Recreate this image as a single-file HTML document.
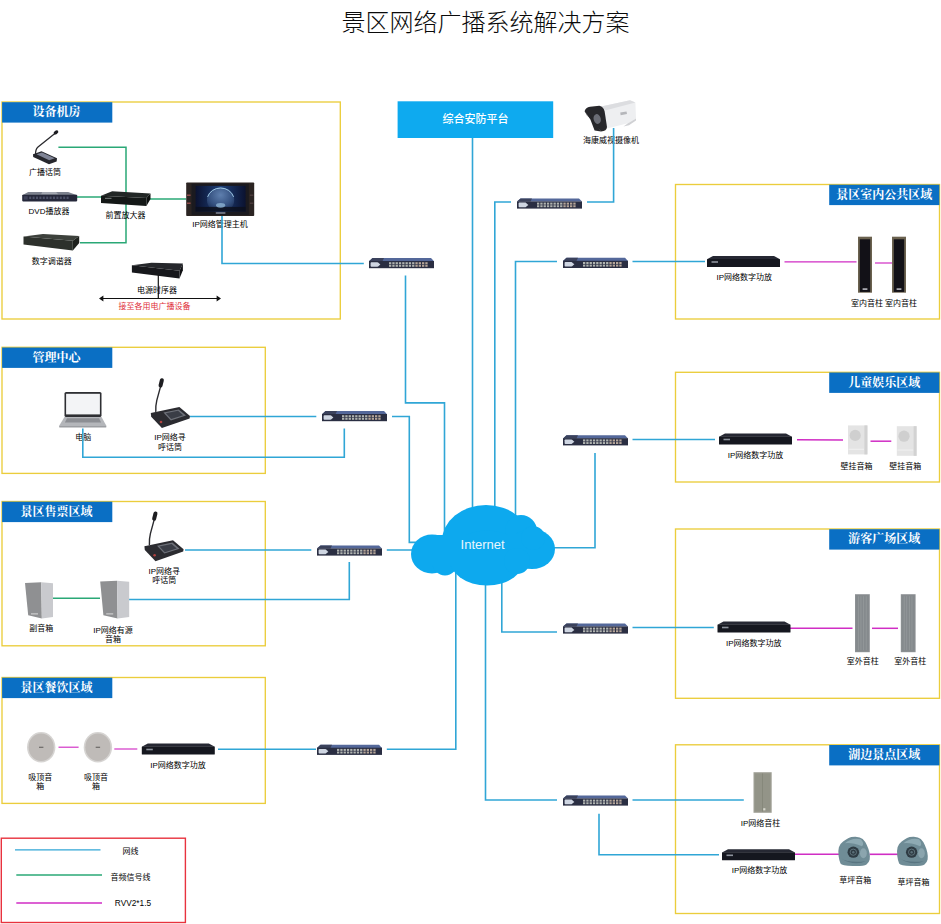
<!DOCTYPE html>
<html lang="zh-CN">
<head>
<meta charset="utf-8">
<title>景区网络广播系统解决方案</title>
<style>
html,body{margin:0;padding:0;background:#fff;}
body{width:941px;height:924px;overflow:hidden;}
svg{display:block;}
text{font-family:"Liberation Sans","Noto Sans CJK SC",sans-serif;font-weight:400;}
text.z{font-family:"Liberation Serif","Noto Serif CJK SC",serif;font-weight:700;}
text.b{font-weight:500;}
text.h{font-weight:300;}
</style>
</head>
<body>
<svg width="941" height="924" viewBox="0 0 941 924">
<defs><linearGradient id="scr" x1="0" y1="0" x2="1" y2="0"><stop offset="0" stop-color="#0b1230"/><stop offset="0.5" stop-color="#1d3f78"/><stop offset="1" stop-color="#0b1230"/></linearGradient><radialGradient id="glb" cx="0.5" cy="0.3" r="0.75"><stop offset="0" stop-color="#5e7fae"/><stop offset="0.6" stop-color="#34507f"/><stop offset="1" stop-color="#15254a"/></radialGradient></defs>
<text class="h" x="485.6" y="31.4" font-size="24" fill="#0a0a0a" text-anchor="middle" >景区网络广播系统解决方案</text>
<rect x="2" y="102" width="338.3" height="217" fill="none" stroke="#ebcd3c" stroke-width="1.35"/>
<rect x="2.1" y="102.2" width="110.2" height="20.4" fill="#0a6fc4" />
<text class="z" x="56.6" y="116.2" font-size="12" fill="#fff" text-anchor="middle" >设备机房</text>
<rect x="2" y="347.3" width="263.3" height="126.1" fill="none" stroke="#ebcd3c" stroke-width="1.35"/>
<rect x="2.1" y="347.5" width="110.2" height="20.4" fill="#0a6fc4" />
<text class="z" x="56.6" y="361.5" font-size="12" fill="#fff" text-anchor="middle" >管理中心</text>
<rect x="2" y="501.5" width="263.3" height="144.3" fill="none" stroke="#ebcd3c" stroke-width="1.35"/>
<rect x="2.1" y="501.7" width="110.2" height="20.4" fill="#0a6fc4" />
<text class="z" x="56.6" y="515.7" font-size="12" fill="#fff" text-anchor="middle" >景区售票区域</text>
<rect x="2" y="677.5" width="263.3" height="125.9" fill="none" stroke="#ebcd3c" stroke-width="1.35"/>
<rect x="2.1" y="677.7" width="110.2" height="20.4" fill="#0a6fc4" />
<text class="z" x="56.6" y="691.7" font-size="12" fill="#fff" text-anchor="middle" >景区餐饮区域</text>
<rect x="675.5" y="184.5" width="264" height="134.5" fill="none" stroke="#ebcd3c" stroke-width="1.35"/>
<rect x="829.2" y="184.7" width="110.2" height="20.4" fill="#0a6fc4" />
<text class="z" x="884.3" y="198.7" font-size="12" fill="#fff" text-anchor="middle" >景区室内公共区域</text>
<rect x="675.5" y="372.3" width="264" height="109.7" fill="none" stroke="#ebcd3c" stroke-width="1.35"/>
<rect x="829.2" y="372.5" width="110.2" height="20.4" fill="#0a6fc4" />
<text class="z" x="884.3" y="386.5" font-size="12" fill="#fff" text-anchor="middle" >儿童娱乐区域</text>
<rect x="675.5" y="529" width="264" height="169.3" fill="none" stroke="#ebcd3c" stroke-width="1.35"/>
<rect x="829.2" y="529.2" width="110.2" height="20.4" fill="#0a6fc4" />
<text class="z" x="884.3" y="543.2" font-size="12" fill="#fff" text-anchor="middle" >游客广场区域</text>
<rect x="675.5" y="744.8" width="264" height="168.7" fill="none" stroke="#ebcd3c" stroke-width="1.35"/>
<rect x="829.2" y="745" width="110.2" height="20.4" fill="#0a6fc4" />
<text class="z" x="884.3" y="759" font-size="12" fill="#fff" text-anchor="middle" >湖边景点区域</text>
<rect x="1.3" y="838.2" width="184.1" height="84.3" fill="none" stroke="#e8323e" stroke-width="1.4"/>
<polyline points="15,849.8 100.5,849.8" fill="none" stroke="#30a6d6" stroke-width="1.2"/>
<polyline points="16.3,875 102,875" fill="none" stroke="#2aa876" stroke-width="1.3"/>
<polyline points="16.3,903 102,903" fill="none" stroke="#d02dc4" stroke-width="1.4"/>
<text class="t" x="130.5" y="853.88" font-size="8" fill="#000" text-anchor="middle" >网线</text>
<text class="t" x="130.5" y="880.38" font-size="8" fill="#000" text-anchor="middle" >音频信号线</text>
<text class="t" x="133" y="905.988" font-size="8.3" fill="#000" text-anchor="middle" >RVV2*1.5</text>
<text class="t" x="220" y="227.38" font-size="8" fill="#000" text-anchor="middle" >IP网络管理主机</text>
<text class="t" x="611" y="142.88" font-size="8" fill="#000" text-anchor="middle" >海康威视摄像机</text>
<text class="t" x="83.3" y="440.18" font-size="8" fill="#000" text-anchor="middle" >电脑</text>
<polyline points="472.5,137 472.5,515" fill="none" stroke="#30a6d6" stroke-width="1.6"/>
<polyline points="613.6,128 613.6,202 587,202" fill="none" stroke="#30a6d6" stroke-width="1.6"/>
<polyline points="511,202 494.8,202 494.8,515" fill="none" stroke="#30a6d6" stroke-width="1.6"/>
<polyline points="222,215 222,263.5 363.8,263.5" fill="none" stroke="#30a6d6" stroke-width="1.6"/>
<polyline points="405.5,275.5 405.5,402.9 444.5,402.9 444.5,535" fill="none" stroke="#30a6d6" stroke-width="1.6"/>
<polyline points="557,261.5 515.5,261.5 515.5,520" fill="none" stroke="#30a6d6" stroke-width="1.6"/>
<polyline points="632.5,261.5 705,261.5" fill="none" stroke="#30a6d6" stroke-width="1.6"/>
<polyline points="190,416.5 316.3,416.5" fill="none" stroke="#30a6d6" stroke-width="1.6"/>
<polyline points="392,416.5 409.3,416.5 409.3,542.4 420,542.4" fill="none" stroke="#30a6d6" stroke-width="1.6"/>
<polyline points="82.8,428.5 82.8,457.3 344.3,457.3 344.3,428.5" fill="none" stroke="#30a6d6" stroke-width="1.6"/>
<polyline points="185,550 311.3,550" fill="none" stroke="#30a6d6" stroke-width="1.6"/>
<polyline points="386.8,550 420,550" fill="none" stroke="#30a6d6" stroke-width="1.6"/>
<polyline points="129,599.5 349.3,599.5 349.3,562" fill="none" stroke="#30a6d6" stroke-width="1.6"/>
<polyline points="218,749.3 316,749.3" fill="none" stroke="#30a6d6" stroke-width="1.6"/>
<polyline points="386.8,749.3 455.8,749.3 455.8,570" fill="none" stroke="#30a6d6" stroke-width="1.6"/>
<polyline points="632.5,439.5 715,439.5" fill="none" stroke="#30a6d6" stroke-width="1.6"/>
<polyline points="595,453 595,547.8 550,547.8" fill="none" stroke="#30a6d6" stroke-width="1.6"/>
<polyline points="557,632 501.8,632 501.8,575" fill="none" stroke="#30a6d6" stroke-width="1.6"/>
<polyline points="632.5,627.5 713.8,627.5" fill="none" stroke="#30a6d6" stroke-width="1.6"/>
<polyline points="557,800 485.5,800 485.5,580" fill="none" stroke="#30a6d6" stroke-width="1.6"/>
<polyline points="632.5,800 743.8,800" fill="none" stroke="#30a6d6" stroke-width="1.6"/>
<polyline points="599,813.8 599,854.8 719,854.8" fill="none" stroke="#30a6d6" stroke-width="1.6"/>
<polyline points="58.4,147.3 126,147.3 126,242.8 80,242.8" fill="none" stroke="#2aa876" stroke-width="1.5"/>
<polyline points="77,197 102,197" fill="none" stroke="#2aa876" stroke-width="1.5"/>
<polyline points="150,199 186,199" fill="none" stroke="#2aa876" stroke-width="1.5"/>
<polyline points="53,598.3 100,598.3" fill="none" stroke="#2aa876" stroke-width="1.5"/>
<polyline points="784.5,261.8 856.5,261.8" fill="none" stroke="#d02dc4" stroke-width="1.2"/>
<polyline points="875,263 893,263" fill="none" stroke="#d02dc4" stroke-width="1.2"/>
<polyline points="797,439.8 843,440" fill="none" stroke="#d02dc4" stroke-width="1.5"/>
<polyline points="870.5,441.2 891.3,441.2" fill="none" stroke="#d02dc4" stroke-width="1.5"/>
<polyline points="790,628.3 852.5,628.3" fill="none" stroke="#d02dc4" stroke-width="1.6"/>
<polyline points="872,628.3 898,628.3" fill="none" stroke="#d02dc4" stroke-width="1.5"/>
<polyline points="795,854.3 839,854.3" fill="none" stroke="#d02dc4" stroke-width="1.6"/>
<polyline points="869.5,854.3 898,854.3" fill="none" stroke="#d02dc4" stroke-width="1.6"/>
<polyline points="58.5,747.2 78.6,747.2" fill="none" stroke="#d02dc4" stroke-width="1.15"/>
<polyline points="114.3,749 137.3,749" fill="none" stroke="#d02dc4" stroke-width="1.15"/>
<g fill="#0da9ee">
<ellipse cx="486" cy="541" rx="44" ry="36"/>
<circle cx="521" cy="531" r="16"/>
<ellipse cx="532" cy="549" rx="23" ry="20"/>
<ellipse cx="432" cy="554" rx="21" ry="19.5"/>
<circle cx="445" cy="563" r="12.5"/>
<ellipse cx="487" cy="558" rx="38" ry="27.5"/>
<rect x="430" y="535" width="105" height="30"/>
<circle cx="533" cy="538" r="12"/>
<circle cx="517" cy="561" r="13"/>
</g>
<text class="t" x="482.6" y="549.3" font-size="13" fill="#eaf6fd" text-anchor="middle" >Internet</text>
<rect x="397.6" y="101.3" width="155.6" height="36.7" fill="#0eaaef" />
<text class="b" x="475.5" y="122.7" font-size="11" fill="#fff" text-anchor="middle" >综合安防平台</text>
<polygon points="372.5,258 431,258 434,261.2 369,261.2" fill="#54689a" />
<polygon points="372.5,258 384,258 382.5,261.2 369,261.2" fill="#3b425c" />
<rect x="369" y="261" width="65" height="7.2" fill="#2a2e42" />
<rect x="370.6" y="262.2" width="7.6" height="4.6" fill="#cfd6e2" rx="0.8"/>
<polygon points="378,262.6 380.4,264.5 378,266.4" fill="#cfd6e2" />
<rect x="389" y="262.2" width="2.3" height="4.6" fill="#b0b4b0" />
<rect x="392.3" y="262.2" width="2.3" height="4.6" fill="#b0b4b0" />
<rect x="395.6" y="262.2" width="2.3" height="4.6" fill="#b0b4b0" />
<rect x="398.9" y="262.2" width="2.3" height="4.6" fill="#b0b4b0" />
<rect x="402.2" y="262.2" width="2.3" height="4.6" fill="#b0b4b0" />
<rect x="405.5" y="262.2" width="2.3" height="4.6" fill="#b0b4b0" />
<rect x="408.8" y="262.2" width="2.3" height="4.6" fill="#b0b4b0" />
<rect x="412.1" y="262.2" width="2.3" height="4.6" fill="#b0b4b0" />
<rect x="415.4" y="262.2" width="2.3" height="4.6" fill="#b5a598" />
<rect x="418.7" y="262.2" width="2.3" height="4.6" fill="#b5a598" />
<rect x="422" y="262.2" width="2.3" height="4.6" fill="#b5a598" />
<rect x="425.3" y="262.2" width="2.3" height="4.6" fill="#b5a598" />
<rect x="389" y="264.2" width="39" height="0.7" fill="#3a3e50" />
<polygon points="520.5,198.4 579,198.4 582,201.6 517,201.6" fill="#54689a" />
<polygon points="520.5,198.4 532,198.4 530.5,201.6 517,201.6" fill="#3b425c" />
<rect x="517" y="201.4" width="65" height="7.2" fill="#2a2e42" />
<rect x="518.6" y="202.6" width="7.6" height="4.6" fill="#cfd6e2" rx="0.8"/>
<polygon points="526,203 528.4,204.9 526,206.8" fill="#cfd6e2" />
<rect x="537" y="202.6" width="2.3" height="4.6" fill="#b0b4b0" />
<rect x="540.3" y="202.6" width="2.3" height="4.6" fill="#b0b4b0" />
<rect x="543.6" y="202.6" width="2.3" height="4.6" fill="#b0b4b0" />
<rect x="546.9" y="202.6" width="2.3" height="4.6" fill="#b0b4b0" />
<rect x="550.2" y="202.6" width="2.3" height="4.6" fill="#b0b4b0" />
<rect x="553.5" y="202.6" width="2.3" height="4.6" fill="#b0b4b0" />
<rect x="556.8" y="202.6" width="2.3" height="4.6" fill="#b0b4b0" />
<rect x="560.1" y="202.6" width="2.3" height="4.6" fill="#b0b4b0" />
<rect x="563.4" y="202.6" width="2.3" height="4.6" fill="#b5a598" />
<rect x="566.7" y="202.6" width="2.3" height="4.6" fill="#b5a598" />
<rect x="570" y="202.6" width="2.3" height="4.6" fill="#b5a598" />
<rect x="573.3" y="202.6" width="2.3" height="4.6" fill="#b5a598" />
<rect x="537" y="204.6" width="39" height="0.7" fill="#3a3e50" />
<polygon points="566.5,257.8 625,257.8 628,261 563,261" fill="#54689a" />
<polygon points="566.5,257.8 578,257.8 576.5,261 563,261" fill="#3b425c" />
<rect x="563" y="260.8" width="65" height="7.2" fill="#2a2e42" />
<rect x="564.6" y="262" width="7.6" height="4.6" fill="#cfd6e2" rx="0.8"/>
<polygon points="572,262.4 574.4,264.3 572,266.2" fill="#cfd6e2" />
<rect x="583" y="262" width="2.3" height="4.6" fill="#b0b4b0" />
<rect x="586.3" y="262" width="2.3" height="4.6" fill="#b0b4b0" />
<rect x="589.6" y="262" width="2.3" height="4.6" fill="#b0b4b0" />
<rect x="592.9" y="262" width="2.3" height="4.6" fill="#b0b4b0" />
<rect x="596.2" y="262" width="2.3" height="4.6" fill="#b0b4b0" />
<rect x="599.5" y="262" width="2.3" height="4.6" fill="#b0b4b0" />
<rect x="602.8" y="262" width="2.3" height="4.6" fill="#b0b4b0" />
<rect x="606.1" y="262" width="2.3" height="4.6" fill="#b0b4b0" />
<rect x="609.4" y="262" width="2.3" height="4.6" fill="#b5a598" />
<rect x="612.7" y="262" width="2.3" height="4.6" fill="#b5a598" />
<rect x="616" y="262" width="2.3" height="4.6" fill="#b5a598" />
<rect x="619.3" y="262" width="2.3" height="4.6" fill="#b5a598" />
<rect x="583" y="264" width="39" height="0.7" fill="#3a3e50" />
<polygon points="325.5,411 384,411 387,414.2 322,414.2" fill="#54689a" />
<polygon points="325.5,411 337,411 335.5,414.2 322,414.2" fill="#3b425c" />
<rect x="322" y="414" width="65" height="7.2" fill="#2a2e42" />
<rect x="323.6" y="415.2" width="7.6" height="4.6" fill="#cfd6e2" rx="0.8"/>
<polygon points="331,415.6 333.4,417.5 331,419.4" fill="#cfd6e2" />
<rect x="342" y="415.2" width="2.3" height="4.6" fill="#b0b4b0" />
<rect x="345.3" y="415.2" width="2.3" height="4.6" fill="#b0b4b0" />
<rect x="348.6" y="415.2" width="2.3" height="4.6" fill="#b0b4b0" />
<rect x="351.9" y="415.2" width="2.3" height="4.6" fill="#b0b4b0" />
<rect x="355.2" y="415.2" width="2.3" height="4.6" fill="#b0b4b0" />
<rect x="358.5" y="415.2" width="2.3" height="4.6" fill="#b0b4b0" />
<rect x="361.8" y="415.2" width="2.3" height="4.6" fill="#b0b4b0" />
<rect x="365.1" y="415.2" width="2.3" height="4.6" fill="#b0b4b0" />
<rect x="368.4" y="415.2" width="2.3" height="4.6" fill="#b5a598" />
<rect x="371.7" y="415.2" width="2.3" height="4.6" fill="#b5a598" />
<rect x="375" y="415.2" width="2.3" height="4.6" fill="#b5a598" />
<rect x="378.3" y="415.2" width="2.3" height="4.6" fill="#b5a598" />
<rect x="342" y="417.2" width="39" height="0.7" fill="#3a3e50" />
<polygon points="566.5,435.2 625,435.2 628,438.4 563,438.4" fill="#54689a" />
<polygon points="566.5,435.2 578,435.2 576.5,438.4 563,438.4" fill="#3b425c" />
<rect x="563" y="438.2" width="65" height="7.2" fill="#2a2e42" />
<rect x="564.6" y="439.4" width="7.6" height="4.6" fill="#cfd6e2" rx="0.8"/>
<polygon points="572,439.8 574.4,441.7 572,443.6" fill="#cfd6e2" />
<rect x="583" y="439.4" width="2.3" height="4.6" fill="#b0b4b0" />
<rect x="586.3" y="439.4" width="2.3" height="4.6" fill="#b0b4b0" />
<rect x="589.6" y="439.4" width="2.3" height="4.6" fill="#b0b4b0" />
<rect x="592.9" y="439.4" width="2.3" height="4.6" fill="#b0b4b0" />
<rect x="596.2" y="439.4" width="2.3" height="4.6" fill="#b0b4b0" />
<rect x="599.5" y="439.4" width="2.3" height="4.6" fill="#b0b4b0" />
<rect x="602.8" y="439.4" width="2.3" height="4.6" fill="#b0b4b0" />
<rect x="606.1" y="439.4" width="2.3" height="4.6" fill="#b0b4b0" />
<rect x="609.4" y="439.4" width="2.3" height="4.6" fill="#b5a598" />
<rect x="612.7" y="439.4" width="2.3" height="4.6" fill="#b5a598" />
<rect x="616" y="439.4" width="2.3" height="4.6" fill="#b5a598" />
<rect x="619.3" y="439.4" width="2.3" height="4.6" fill="#b5a598" />
<rect x="583" y="441.4" width="39" height="0.7" fill="#3a3e50" />
<polygon points="320.5,545.4 379,545.4 382,548.6 317,548.6" fill="#54689a" />
<polygon points="320.5,545.4 332,545.4 330.5,548.6 317,548.6" fill="#3b425c" />
<rect x="317" y="548.4" width="65" height="7.2" fill="#2a2e42" />
<rect x="318.6" y="549.6" width="7.6" height="4.6" fill="#cfd6e2" rx="0.8"/>
<polygon points="326,550 328.4,551.9 326,553.8" fill="#cfd6e2" />
<rect x="337" y="549.6" width="2.3" height="4.6" fill="#b0b4b0" />
<rect x="340.3" y="549.6" width="2.3" height="4.6" fill="#b0b4b0" />
<rect x="343.6" y="549.6" width="2.3" height="4.6" fill="#b0b4b0" />
<rect x="346.9" y="549.6" width="2.3" height="4.6" fill="#b0b4b0" />
<rect x="350.2" y="549.6" width="2.3" height="4.6" fill="#b0b4b0" />
<rect x="353.5" y="549.6" width="2.3" height="4.6" fill="#b0b4b0" />
<rect x="356.8" y="549.6" width="2.3" height="4.6" fill="#b0b4b0" />
<rect x="360.1" y="549.6" width="2.3" height="4.6" fill="#b0b4b0" />
<rect x="363.4" y="549.6" width="2.3" height="4.6" fill="#b5a598" />
<rect x="366.7" y="549.6" width="2.3" height="4.6" fill="#b5a598" />
<rect x="370" y="549.6" width="2.3" height="4.6" fill="#b5a598" />
<rect x="373.3" y="549.6" width="2.3" height="4.6" fill="#b5a598" />
<rect x="337" y="551.6" width="39" height="0.7" fill="#3a3e50" />
<polygon points="566.5,623.4 625,623.4 628,626.6 563,626.6" fill="#54689a" />
<polygon points="566.5,623.4 578,623.4 576.5,626.6 563,626.6" fill="#3b425c" />
<rect x="563" y="626.4" width="65" height="7.2" fill="#2a2e42" />
<rect x="564.6" y="627.6" width="7.6" height="4.6" fill="#cfd6e2" rx="0.8"/>
<polygon points="572,628 574.4,629.9 572,631.8" fill="#cfd6e2" />
<rect x="583" y="627.6" width="2.3" height="4.6" fill="#b0b4b0" />
<rect x="586.3" y="627.6" width="2.3" height="4.6" fill="#b0b4b0" />
<rect x="589.6" y="627.6" width="2.3" height="4.6" fill="#b0b4b0" />
<rect x="592.9" y="627.6" width="2.3" height="4.6" fill="#b0b4b0" />
<rect x="596.2" y="627.6" width="2.3" height="4.6" fill="#b0b4b0" />
<rect x="599.5" y="627.6" width="2.3" height="4.6" fill="#b0b4b0" />
<rect x="602.8" y="627.6" width="2.3" height="4.6" fill="#b0b4b0" />
<rect x="606.1" y="627.6" width="2.3" height="4.6" fill="#b0b4b0" />
<rect x="609.4" y="627.6" width="2.3" height="4.6" fill="#b5a598" />
<rect x="612.7" y="627.6" width="2.3" height="4.6" fill="#b5a598" />
<rect x="616" y="627.6" width="2.3" height="4.6" fill="#b5a598" />
<rect x="619.3" y="627.6" width="2.3" height="4.6" fill="#b5a598" />
<rect x="583" y="629.6" width="39" height="0.7" fill="#3a3e50" />
<polygon points="320.5,744.7 379,744.7 382,747.9 317,747.9" fill="#54689a" />
<polygon points="320.5,744.7 332,744.7 330.5,747.9 317,747.9" fill="#3b425c" />
<rect x="317" y="747.7" width="65" height="7.2" fill="#2a2e42" />
<rect x="318.6" y="748.9" width="7.6" height="4.6" fill="#cfd6e2" rx="0.8"/>
<polygon points="326,749.3 328.4,751.2 326,753.1" fill="#cfd6e2" />
<rect x="337" y="748.9" width="2.3" height="4.6" fill="#b0b4b0" />
<rect x="340.3" y="748.9" width="2.3" height="4.6" fill="#b0b4b0" />
<rect x="343.6" y="748.9" width="2.3" height="4.6" fill="#b0b4b0" />
<rect x="346.9" y="748.9" width="2.3" height="4.6" fill="#b0b4b0" />
<rect x="350.2" y="748.9" width="2.3" height="4.6" fill="#b0b4b0" />
<rect x="353.5" y="748.9" width="2.3" height="4.6" fill="#b0b4b0" />
<rect x="356.8" y="748.9" width="2.3" height="4.6" fill="#b0b4b0" />
<rect x="360.1" y="748.9" width="2.3" height="4.6" fill="#b0b4b0" />
<rect x="363.4" y="748.9" width="2.3" height="4.6" fill="#b5a598" />
<rect x="366.7" y="748.9" width="2.3" height="4.6" fill="#b5a598" />
<rect x="370" y="748.9" width="2.3" height="4.6" fill="#b5a598" />
<rect x="373.3" y="748.9" width="2.3" height="4.6" fill="#b5a598" />
<rect x="337" y="750.9" width="39" height="0.7" fill="#3a3e50" />
<polygon points="566.5,795.4 625,795.4 628,798.6 563,798.6" fill="#54689a" />
<polygon points="566.5,795.4 578,795.4 576.5,798.6 563,798.6" fill="#3b425c" />
<rect x="563" y="798.4" width="65" height="7.2" fill="#2a2e42" />
<rect x="564.6" y="799.6" width="7.6" height="4.6" fill="#cfd6e2" rx="0.8"/>
<polygon points="572,800 574.4,801.9 572,803.8" fill="#cfd6e2" />
<rect x="583" y="799.6" width="2.3" height="4.6" fill="#b0b4b0" />
<rect x="586.3" y="799.6" width="2.3" height="4.6" fill="#b0b4b0" />
<rect x="589.6" y="799.6" width="2.3" height="4.6" fill="#b0b4b0" />
<rect x="592.9" y="799.6" width="2.3" height="4.6" fill="#b0b4b0" />
<rect x="596.2" y="799.6" width="2.3" height="4.6" fill="#b0b4b0" />
<rect x="599.5" y="799.6" width="2.3" height="4.6" fill="#b0b4b0" />
<rect x="602.8" y="799.6" width="2.3" height="4.6" fill="#b0b4b0" />
<rect x="606.1" y="799.6" width="2.3" height="4.6" fill="#b0b4b0" />
<rect x="609.4" y="799.6" width="2.3" height="4.6" fill="#b5a598" />
<rect x="612.7" y="799.6" width="2.3" height="4.6" fill="#b5a598" />
<rect x="616" y="799.6" width="2.3" height="4.6" fill="#b5a598" />
<rect x="619.3" y="799.6" width="2.3" height="4.6" fill="#b5a598" />
<rect x="583" y="801.6" width="39" height="0.7" fill="#3a3e50" />
<polygon points="713,256 774,256 780,259.2 707,259.2" fill="#262833" />
<rect x="707" y="259" width="73" height="8" fill="#15171f" rx="0.6"/>
<rect x="711.5" y="261.2" width="6.5" height="1.6" fill="#8d929c" />
<polygon points="725,433.5 786,433.5 792,436.7 719,436.7" fill="#262833" />
<rect x="719" y="436.5" width="73" height="8" fill="#15171f" rx="0.6"/>
<rect x="723.5" y="438.7" width="6.5" height="1.6" fill="#8d929c" />
<polygon points="723.5,621.5 784.5,621.5 790.5,624.7 717.5,624.7" fill="#262833" />
<rect x="717.5" y="624.5" width="73" height="8" fill="#15171f" rx="0.6"/>
<rect x="722" y="626.7" width="6.5" height="1.6" fill="#8d929c" />
<polygon points="728,849.3 789,849.3 795,852.5 722,852.5" fill="#262833" />
<rect x="722" y="852.3" width="73" height="8" fill="#15171f" rx="0.6"/>
<rect x="726.5" y="854.5" width="6.5" height="1.6" fill="#8d929c" />
<polygon points="147.8,743.5 208.8,743.5 214.8,746.7 141.8,746.7" fill="#262833" />
<rect x="141.8" y="746.5" width="73" height="8" fill="#15171f" rx="0.6"/>
<rect x="146.3" y="748.7" width="6.5" height="1.6" fill="#8d929c" />
<path d="M55.5 133 L38 147 Q35.2 149.5 35.6 155" fill="none" stroke="#2a2a2e" stroke-width="1.3" stroke-linecap="round"/>
<ellipse cx="56" cy="132.4" rx="2.6" ry="1.7" fill="#1c1c20" transform="rotate(-38 56 132.4)"/>
<polygon points="33,154.2 41.5,151.3 57,158.2 56.6,161.6 49,164.2 33.2,157" fill="#25262c" />
<polygon points="36.5,154.2 42,152.4 54.8,158.2 49.2,160.2" fill="#7f8496" />
<polygon points="28.2,192 68.2,192 77.2,195.2 22.2,195.2" fill="#7d828e" />
<polygon points="42.2,192 56.2,192 58.2,194.2 41.2,194.2" fill="#a3a7b0" />
<rect x="22.2" y="194.8" width="55" height="6.6" fill="#25283a" rx="0.8"/>
<rect x="29.2" y="196.6" width="2" height="2.4" fill="#4d5268" />
<rect x="32.6" y="196.6" width="2" height="2.4" fill="#4d5268" />
<rect x="36" y="196.6" width="2" height="2.4" fill="#4d5268" />
<rect x="39.4" y="196.6" width="2" height="2.4" fill="#4d5268" />
<rect x="42.8" y="196.6" width="2" height="2.4" fill="#4d5268" />
<rect x="46.2" y="196.6" width="2" height="2.4" fill="#4d5268" />
<rect x="49.6" y="196.6" width="2" height="2.4" fill="#4d5268" />
<rect x="53" y="196.6" width="2" height="2.4" fill="#4d5268" />
<rect x="56.4" y="196.6" width="2" height="2.4" fill="#4d5268" />
<rect x="59.8" y="196.6" width="2" height="2.4" fill="#4d5268" />
<rect x="63.2" y="196.6" width="2" height="2.4" fill="#4d5268" />
<rect x="66.6" y="196.6" width="2" height="2.4" fill="#4d5268" />
<rect x="23.7" y="196.2" width="4" height="3.4" fill="#3d4157" />
<polygon points="112.2,191.2 150.5,193.5 146.4,198.1 101,195.7" fill="#222726" />
<polygon points="146.4,198.1 150.5,193.5 150.5,199 146.4,206.1" fill="#0d100f" />
<polygon points="101,195.7 146.4,198.1 146.4,206.1 101,203.1" fill="#141817" />
<rect x="105" y="197.8" width="6.5" height="1.1" fill="#6f7675" />
<rect x="186.2" y="182.5" width="68" height="33.6" fill="#2b2422" rx="0.8"/>
<rect x="191.6" y="183.7" width="57.2" height="31.2" fill="#1b1a1f" />
<rect x="195.6" y="185.9" width="50" height="25.6" fill="url(#scr)" />
<ellipse cx="220.6" cy="200.1" rx="13.6" ry="12.6" fill="url(#glb)"/>
<path d="M207.6 196.9 A13.6 12.6 0 0 1 233.6 196.9" fill="none" stroke="#a9d4ee" stroke-width="1" opacity="0.9"/>
<rect x="195.6" y="206.9" width="50" height="4.6" fill="#0c0f1c" opacity="0.85"/>
<ellipse cx="220.6" cy="205.3" rx="4.6" ry="2.4" fill="#93b9d8" opacity="0.75"/>
<rect x="215.8" y="212.3" width="9.6" height="1.4" fill="#8b8f9c" />
<rect x="187" y="194.5" width="3.6" height="1.5" fill="#8e4a4a" />
<rect x="249.8" y="194.5" width="3.6" height="1.5" fill="#4a3a3a" />
<rect x="187" y="202.5" width="3.6" height="1.5" fill="#8e4a4a" />
<rect x="249.8" y="202.5" width="3.6" height="1.5" fill="#4a3a3a" />
<polygon points="43,234.1 79.2,236.1 72.8,240.7 23.5,236.5" fill="#3d413c" />
<polygon points="72.8,240.7 79.2,236.1 79.2,242.9 72.8,250.5" fill="#1f221e" />
<polygon points="23.5,236.5 72.8,240.7 72.8,250.5 23.5,244.6" fill="#2d312c" />
<polygon points="151.5,262.7 182.9,263.5 179.5,270.7 131.9,265.2" fill="#26282c" />
<polygon points="179.5,270.7 182.9,263.5 182.9,270.3 179.5,278.4" fill="#0f1013" />
<polygon points="131.9,265.2 179.5,270.7 179.5,278.4 131.9,272.4" fill="#17181c" />
<polyline points="158.3,275 158.3,298.5" fill="none" stroke="#111" stroke-width="1.2"/>
<polyline points="101,298.5 219,298.5" fill="none" stroke="#111" stroke-width="1.2"/>
<polygon points="99,298.5 103.4,295.6 103.4,301.4" fill="#111" />
<polygon points="221,298.5 216.6,295.6 216.6,301.4" fill="#111" />
<text class="t" x="45" y="174.88" font-size="8" fill="#000" text-anchor="middle" >广播话筒</text>
<text class="t" x="49" y="213.68" font-size="8" fill="#000" text-anchor="middle" >DVD播放器</text>
<text class="t" x="125.5" y="217.88" font-size="8" fill="#000" text-anchor="middle" >前置放大器</text>
<text class="t" x="51.8" y="264.38" font-size="8" fill="#000" text-anchor="middle" >数字调谐器</text>
<text class="t" x="157" y="293.38" font-size="8" fill="#000" text-anchor="middle" >电源时序器</text>
<text class="t" x="154.5" y="308.88" font-size="8" fill="#e0303a" text-anchor="middle" >接至各用电广播设备</text>
<rect x="64.5" y="392" width="37" height="25" fill="#2e2f33" rx="1.6"/>
<rect x="66.1" y="393.8" width="33.8" height="20.6" fill="#f3f4f6" />
<polygon points="64.5,417 101.5,417 106.5,426 59,426" fill="#b4b6ba" />
<polygon points="67,418.2 99,418.2 101.1,422.4 64.9,422.4" fill="#8c8e93" />
<rect x="59" y="426" width="47.5" height="1.4" fill="#9c9ea2" rx="0.7"/>
<path d="M160.6 386.4 L156.8 400.4 Q155.4 406.4 155.8 411.4" fill="none" stroke="#2b2b2f" stroke-width="1.4" stroke-linecap="round"/>
<rect x="159.2" y="378.2" width="4" height="9.4" rx="2" fill="#1d1d21" transform="rotate(14 161.2 382.9)"/>
<polygon points="150.8,413 179.4,407 190,416 189.6,418.4 161.9,428 151.2,416.8" fill="#2b2b30" />
<polygon points="163.4,412.6 178.8,409.4 186,415.6 170.8,420.4" fill="#6d7078" />
<polygon points="165.8,413.2 178,410.7 183.2,415.3 171.2,419" fill="#3a3d46" />
<circle cx="161" cy="422" r="1.3" fill="#b2413f"/>
<text class="t" x="170" y="440.18" font-size="8" fill="#000" text-anchor="middle" >IP网络寻</text>
<text class="t" x="170" y="450.28" font-size="8" fill="#000" text-anchor="middle" >呼话筒</text>
<path d="M154.2 519.6 L150.4 533.6 Q149 539.6 149.4 544.6" fill="none" stroke="#2b2b2f" stroke-width="1.4" stroke-linecap="round"/>
<rect x="152.8" y="511.4" width="4" height="9.4" rx="2" fill="#1d1d21" transform="rotate(14 154.8 516.1)"/>
<polygon points="144.4,546.2 173,540.2 183.6,549.2 183.2,551.6 155.5,561.2 144.8,550" fill="#2b2b30" />
<polygon points="157,545.8 172.4,542.6 179.6,548.8 164.4,553.6" fill="#6d7078" />
<polygon points="159.4,546.4 171.6,543.9 176.8,548.5 164.8,552.2" fill="#3a3d46" />
<circle cx="154.6" cy="555.2" r="1.3" fill="#b2413f"/>
<polygon points="25,583 41.24,582.2 41.84,618.6 28.2,615.2" fill="#8f9092" />
<polygon points="41.24,582.2 53,583.2 53,617 41.84,618.6" fill="#c9cace" />
<rect x="31" y="613.4" width="7" height="1" fill="#d9d9d9" />
<polygon points="100.2,581.6 117.02,580.8 117.62,618.6 103.4,615.2" fill="#8f9092" />
<polygon points="117.02,580.8 129.2,581.8 129.2,617 117.62,618.6" fill="#c9cace" />
<rect x="106.2" y="613.4" width="7" height="1" fill="#d9d9d9" />
<text class="t" x="164.3" y="574.18" font-size="8" fill="#000" text-anchor="middle" >IP网络寻</text>
<text class="t" x="164.3" y="583.38" font-size="8" fill="#000" text-anchor="middle" >呼话筒</text>
<text class="t" x="41.3" y="630.98" font-size="8" fill="#000" text-anchor="middle" >副音箱</text>
<text class="t" x="113" y="632.88" font-size="8" fill="#000" text-anchor="middle" >IP网络有源</text>
<text class="t" x="113" y="641.88" font-size="8" fill="#000" text-anchor="middle" >音箱</text>
<ellipse cx="41.2" cy="747.3" rx="14.2" ry="15.3" fill="#d6d4d2"/>
<ellipse cx="41.2" cy="747.3" rx="12.6" ry="13.7" fill="#bfbbb8"/>
<rect x="39" y="746.7" width="4.4" height="1.2" fill="#6c6a68" />
<ellipse cx="97.9" cy="747.3" rx="14.2" ry="15.3" fill="#d6d4d2"/>
<ellipse cx="97.9" cy="747.3" rx="12.6" ry="13.7" fill="#bfbbb8"/>
<rect x="95.7" y="746.7" width="4.4" height="1.2" fill="#6c6a68" />
<text class="t" x="178" y="767.98" font-size="8" fill="#000" text-anchor="middle" >IP网络数字功放</text>
<text class="t" x="40.3" y="779.78" font-size="8" fill="#000" text-anchor="middle" >吸顶音</text>
<text class="t" x="40.3" y="789.18" font-size="8" fill="#000" text-anchor="middle" >箱</text>
<text class="t" x="96" y="779.78" font-size="8" fill="#000" text-anchor="middle" >吸顶音</text>
<text class="t" x="96" y="789.18" font-size="8" fill="#000" text-anchor="middle" >箱</text>
<polygon points="600,106.8 630,100.2 635.4,102.6 636,118.6 628,123.2 608,128.2 603,125.6" fill="#eeeff1" />
<polygon points="600,106.8 630,100.2 635.4,102.6 606,110.2" fill="#dcdde0" />
<polygon points="628,123.2 636,118.6 636,120.6 629,125.2 623.5,126.6" fill="#d0d1d4" />
<path d="M584.6 111.2 Q585.6 107.6 590 106.8 L599.4 105.8 Q603.6 107 604.6 111.2 L607 127 Q606.8 131 601 131.6 Z" fill="#27272b"/>
<path d="M584.6 111.2 L589 114.2 L601 131.6 Z" fill="#27272b"/>
<polygon points="584.6,111.2 587.4,116.2 590,115 601,131.6 594.6,130.6 590.4,119.6" fill="#27272b" />
<ellipse cx="597.2" cy="119" rx="3.6" ry="5" fill="#6a6c75" transform="rotate(-14 597.2 119)"/>
<rect x="620.4" y="112" width="6.4" height="2.6" fill="#b5b6ba" transform="rotate(-10 623.6 113.3)"/>
<rect x="858" y="236.7" width="14" height="56" fill="#6b624f" />
<rect x="859.8" y="239.3" width="10.4" height="52.6" fill="#121117" />
<rect x="862.6" y="288.3" width="4.8" height="1.6" fill="#b9b9c0" />
<rect x="892" y="236.7" width="14" height="56" fill="#6b624f" />
<rect x="893.8" y="239.3" width="10.4" height="52.6" fill="#121117" />
<rect x="896.6" y="288.3" width="4.8" height="1.6" fill="#b9b9c0" />
<text class="t" x="744.3" y="280.18" font-size="8" fill="#000" text-anchor="middle" >IP网络数字功放</text>
<text class="t" x="867" y="306.28" font-size="8" fill="#000" text-anchor="middle" >室内音柱</text>
<text class="t" x="901" y="306.28" font-size="8" fill="#000" text-anchor="middle" >室内音柱</text>
<rect x="848" y="425.4" width="19.4" height="29" fill="#e4e4e4" />
<rect x="864.4" y="425.4" width="3" height="29" fill="#d2d2d2" />
<circle cx="855.2" cy="435.4" r="5.6" fill="#cfcfcf"/>
<rect x="848.6" y="448.8" width="15.4" height="0.9" fill="#f2f2f2" />
<rect x="896.8" y="426.2" width="19.8" height="29.6" fill="#e4e4e4" />
<rect x="913.6" y="426.2" width="3" height="29.6" fill="#d2d2d2" />
<circle cx="904" cy="436.2" r="5.6" fill="#cfcfcf"/>
<rect x="897.4" y="449.6" width="15.8" height="0.9" fill="#f2f2f2" />
<text class="t" x="755.5" y="457.98" font-size="8" fill="#000" text-anchor="middle" >IP网络数字功放</text>
<text class="t" x="856.6" y="468.68" font-size="8" fill="#000" text-anchor="middle" >壁挂音箱</text>
<text class="t" x="905.2" y="468.68" font-size="8" fill="#000" text-anchor="middle" >壁挂音箱</text>
<rect x="855" y="594.2" width="14.8" height="58" fill="#8d9194" />
<rect x="856" y="595.2" width="12.8" height="56" fill="#858a8d" />
<rect x="858" y="596.2" width="0.7" height="54" fill="#979b9e" />
<rect x="860.6" y="596.2" width="0.7" height="54" fill="#979b9e" />
<rect x="863.2" y="596.2" width="0.7" height="54" fill="#979b9e" />
<rect x="865.8" y="596.2" width="0.7" height="54" fill="#979b9e" />
<rect x="900.8" y="594.2" width="14.8" height="58" fill="#8d9194" />
<rect x="901.8" y="595.2" width="12.8" height="56" fill="#858a8d" />
<rect x="903.8" y="596.2" width="0.7" height="54" fill="#979b9e" />
<rect x="906.4" y="596.2" width="0.7" height="54" fill="#979b9e" />
<rect x="909" y="596.2" width="0.7" height="54" fill="#979b9e" />
<rect x="911.6" y="596.2" width="0.7" height="54" fill="#979b9e" />
<text class="t" x="753.8" y="645.68" font-size="8" fill="#000" text-anchor="middle" >IP网络数字功放</text>
<text class="t" x="862.8" y="664.08" font-size="8" fill="#000" text-anchor="middle" >室外音柱</text>
<text class="t" x="910.3" y="663.68" font-size="8" fill="#000" text-anchor="middle" >室外音柱</text>
<rect x="753.5" y="772.2" width="18.2" height="40.6" fill="#a0a096" />
<rect x="754.7" y="773.4" width="15.8" height="38.2" fill="#939488" />
<rect x="762.3" y="773.4" width="0.6" height="38.2" fill="#7f8073" />
<rect x="763.2" y="808.2" width="2.2" height="2.2" fill="#d6d6cc" />
<path d="M838.6 855.95 Q837.9 850.7 838.9 847.25 Q839.9 843.8 843.1 841.5 Q846.3 839.2 848.6 837.9 Q850.9 836.6 855.6 836.7 Q860.3 836.8 862.7 839.1 Q865.1 841.4 866.8 844.9 Q868.5 848.4 869.4 852.5 Q870.3 856.6 869.7 859.6 Q869.1 862.6 866.5 864.4 Q863.9 866.2 852.8 865.9 Q841.7 865.6 840.5 863.4 Q839.3 861.2 838.6 855.95 Z" fill="#6f8c96"/>
<path d="M844.9 843.2 Q851.9 837.2 860.9 839.2 Q864.9 844.2 861.9 846.2 Q851.9 842.2 844.9 843.2 Z" fill="#8eaab3"/>
<path d="M840.9 858.2 Q847.9 863.2 865.9 861.2 Q853.9 866.7 840.9 858.2 Z" fill="#587480"/>
<ellipse cx="863.4" cy="853.2" rx="3.4" ry="5" fill="#8ba5ae"/>
<ellipse cx="853.3" cy="852.2" rx="5.8" ry="5.6" fill="#2e3b43"/>
<ellipse cx="853.3" cy="852.2" rx="3.2" ry="3.1" fill="none" stroke="#6a7f88" stroke-width="0.8"/>
<ellipse cx="853.3" cy="852.2" rx="1.2" ry="1.2" fill="#5b7079"/>
<path d="M897.283 855.95 Q896.6 850.7 897.575 847.25 Q898.551 843.8 901.672 841.5 Q904.793 839.2 907.036 837.9 Q909.279 836.6 913.863 836.7 Q918.447 836.8 920.788 839.1 Q923.128 841.4 924.786 844.9 Q926.444 848.4 927.322 852.5 Q928.2 856.6 927.615 859.6 Q927.03 862.6 924.494 864.4 Q921.958 866.2 911.132 865.9 Q900.306 865.6 899.136 863.4 Q897.965 861.2 897.283 855.95 Z" fill="#6f8c96"/>
<path d="M903.427 843.2 Q910.254 837.2 919.032 839.2 Q922.933 844.2 920.007 846.2 Q910.254 842.2 903.427 843.2 Z" fill="#8eaab3"/>
<path d="M899.526 858.2 Q906.353 863.2 923.909 861.2 Q912.205 866.7 899.526 858.2 Z" fill="#587480"/>
<ellipse cx="921.47" cy="853.2" rx="3.31605" ry="5" fill="#8ba5ae"/>
<ellipse cx="911.62" cy="852.2" rx="5.65679" ry="5.6" fill="#2e3b43"/>
<ellipse cx="911.62" cy="852.2" rx="3.12099" ry="3.1" fill="none" stroke="#6a7f88" stroke-width="0.8"/>
<ellipse cx="911.62" cy="852.2" rx="1.17037" ry="1.2" fill="#5b7079"/>
<text class="t" x="760.6" y="826.08" font-size="8" fill="#000" text-anchor="middle" >IP网络音柱</text>
<text class="t" x="759.5" y="872.88" font-size="8" fill="#000" text-anchor="middle" >IP网络数字功放</text>
<text class="t" x="855.3" y="882.88" font-size="8" fill="#000" text-anchor="middle" >草坪音箱</text>
<text class="t" x="913.6" y="884.88" font-size="8" fill="#000" text-anchor="middle" >草坪音箱</text>
</svg>
</body>
</html>
